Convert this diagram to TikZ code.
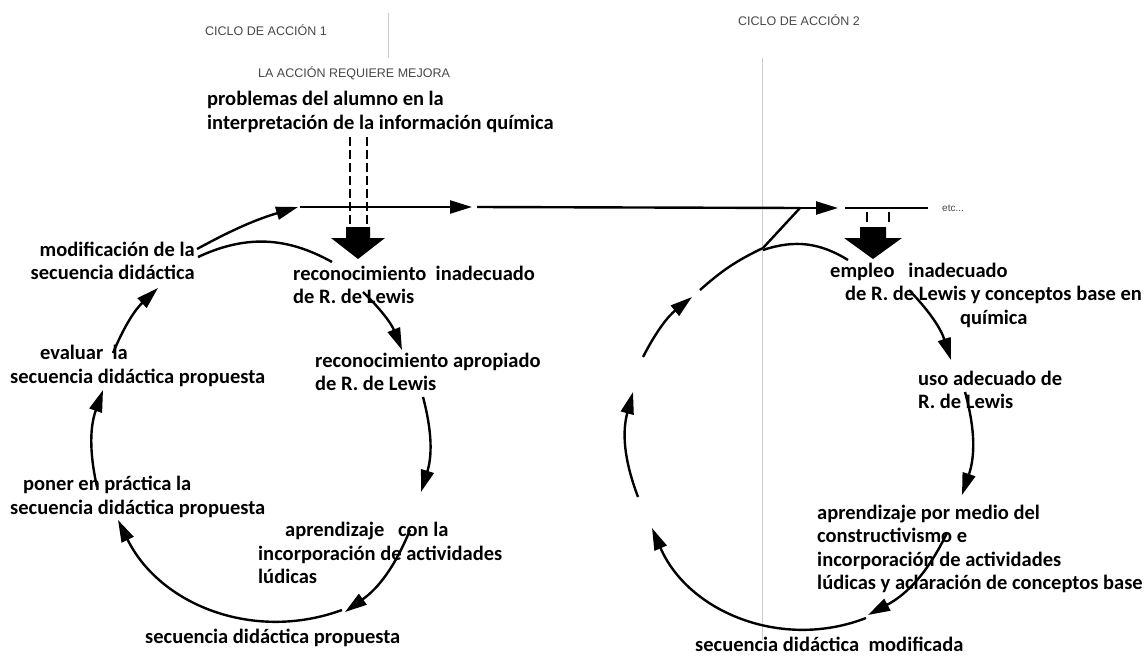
\documentclass[tikz,border=0pt]{standalone}
\usepackage{fontspec}
\setmainfont{Carlito}
\newfontfamily\capfont{Liberation Sans}
\usetikzlibrary{arrows.meta}
\begin{document}
\begin{tikzpicture}[x=1pt,y=-1pt,
  lbl/.style={font=\fontsize{20.5}{23.5}\selectfont\bfseries, inner sep=0pt, align=left, anchor=west},
  capt/.style={font=\capfont\fontsize{12.5}{14}\selectfont, text=black!72, inner sep=0pt, anchor=west},
  flow/.style={line width=2.4pt, -{Triangle[length=22pt,width=13pt]}},
  plain/.style={line width=2.4pt},
  dashv/.style={line width=2pt, dash pattern=on 9pt off 4pt},
  thin/.style={line width=0.6pt, black!20},
  bigarrow/.style={fill=black, draw=none}]
\useasboundingbox (0,0) rectangle (1144,658);

% thin grey guide lines
\coordinate (g1a) at (388,13); \coordinate (g1b) at (388,58);
\coordinate (g2a) at (762,58); \coordinate (g2b) at (762,640);
\draw[thin] (g1a) -- (g1b);
\draw[thin] (g2a) -- (g2b);

% captions
\node[capt] (c1) at (205,30) {CICLO DE ACCIÓN 1};
\node[capt] (mej) at (258,73) {LA ACCIÓN REQUIERE MEJORA};
\node[capt] (c2) at (738,20) {CICLO DE ACCIÓN 2};
\node[capt, font=\capfont\fontsize{10}{12}\selectfont] (etc) at (942,208) {etc...};

% labels
\node[lbl] (prob) at (207,112) {problemas del alumno en la\\interpretación de la información química};
\node[lbl, align=right, anchor=east] (mod) at (195,261) {modificación de la\\secuencia didáctica};
\node[lbl] (rin) at (293,285) {reconocimiento\ \ inadecuado\\de R. de Lewis};
\node[lbl] (rap) at (315,372) {reconocimiento apropiado\\de R. de Lewis};
\node[lbl] (eva) at (10,366) {\hspace*{30pt}evaluar\ \ la\\secuencia didáctica propuesta};
\node[lbl] (pon) at (10,497) {\hspace*{13pt}poner en práctica la\\secuencia didáctica propuesta};
\node[lbl] (apr) at (258,553) {\hspace*{27pt}aprendizaje\ \ \ con la\\incorporación de actividades\\lúdicas};
\node[lbl] (sdp) at (145,638) {secuencia didáctica propuesta};

\node[lbl] (emp) at (830,295) {empleo\ \ \ inadecuado\\\hspace*{15pt}de R. de Lewis y conceptos base en\\\hspace*{130pt}química};
\node[lbl] (uso) at (918,390) {uso adecuado de\\R. de Lewis};
\node[lbl] (apr2) at (817,549) {aprendizaje por medio del\\constructivismo e\\incorporación de actividades\\lúdicas y aclaración de conceptos base};
\node[lbl] (sdm) at (695,644) {secuencia didáctica\ \ modificada};

% top flow line
\coordinate (a0) at (197,249);
\coordinate (a1) at (298,207);
\coordinate (h0) at (300,207);
\coordinate (h1) at (472,207);
\coordinate (h2) at (477,207);
\coordinate (z1) at (800,208);
\coordinate (z2) at (763,248);
\coordinate (z3) at (838,208);
\coordinate (b0) at (845,208);
\coordinate (b1) at (928,208);
\draw[flow] (a0) to[bend left=6] (a1);
\draw[flow] (h0) -- (h1);
\draw[plain] (h2) -- (z1);
\draw[plain, line join=miter] (z2) -- (z1);
\draw[flow] (z1) -- (z3);
\draw[plain] (b0) -- (b1);

% dashed input lines
\coordinate (d1a) at (350,137); \coordinate (d1b) at (350,224);
\coordinate (d2a) at (367,137); \coordinate (d2b) at (367,224);
\draw[dashv] (d1a) -- (d1b);
\draw[dashv] (d2a) -- (d2b);
\coordinate (d3a) at (867,212); \coordinate (d3b) at (867,222);
\coordinate (d4a) at (889,212); \coordinate (d4b) at (889,222);
\draw[line width=1.6pt] (d3a) -- (d3b);
\draw[line width=1.6pt] (d4a) -- (d4b);

% big block arrows
\fill[bigarrow] (346,227) -- (370,227) -- (370,238) -- (385,238) -- (358,259) -- (331,238) -- (346,238) -- cycle;
\fill[bigarrow] (860,227) -- (886,227) -- (886,238) -- (902,238) -- (873,259) -- (844,238) -- (860,238) -- cycle;

% arcs from modification / Z to the first step
\coordinate (m0) at (198,257); \coordinate (m1) at (332,262);
\draw[plain] (m0) to[bend left=27] (m1);
\coordinate (e0) at (763,250); \coordinate (e1) at (848,260);
\draw[plain] (e0) to[bend left=25] (e1);

% left cycle
\coordinate (L1a) at (363,292); \coordinate (L1b) at (402,350);
\coordinate (L2a) at (423,397); \coordinate (L2b) at (421,492);
\coordinate (L3a) at (410,530); \coordinate (L3b) at (345,612);
\coordinate (L4a) at (342,610); \coordinate (L4b) at (118,520);
\coordinate (L5a) at (97,487);  \coordinate (L5b) at (103,390);
\coordinate (L6a) at (113,353); \coordinate (L6b) at (158,288);
\draw[flow] (L1a) to[bend left=12] (L1b);
\draw[flow] (L2a) to[bend left=16] (L2b);
\draw[flow] (L3a) to[bend left=16] (L3b);
\draw[flow] (L4a) to[bend left=42] (L4b);
\draw[flow] (L5a) to[bend left=16] (L5b);
\draw[flow] (L6a) to[bend left=12] (L6b);

% right cycle
\coordinate (R1a) at (909,290); \coordinate (R1b) at (951,360);
\coordinate (R2a) at (965,392); \coordinate (R2b) at (962,495);
\coordinate (R3a) at (947,533); \coordinate (R3b) at (868,615);
\coordinate (R4a) at (866,618); \coordinate (R4b) at (652,528);
\coordinate (R5a) at (638,497); \coordinate (R5b) at (633,392);
\coordinate (R6a) at (643,357); \coordinate (R6b) at (692,297);
\coordinate (R7a) at (700,290);
\draw[flow] (R1a) to[bend left=13] (R1b);
\draw[flow] (R2a) to[bend left=17] (R2b);
\draw[flow] (R3a) to[bend left=18] (R3b);
\draw[flow] (R4a) to[bend left=44] (R4b);
\draw[flow] (R5a) to[bend left=18] (R5b);
\draw[flow] (R6a) to[bend left=12] (R6b);
\draw[plain] (R7a) to[bend left=8] (z2);
\end{tikzpicture}
\end{document}
